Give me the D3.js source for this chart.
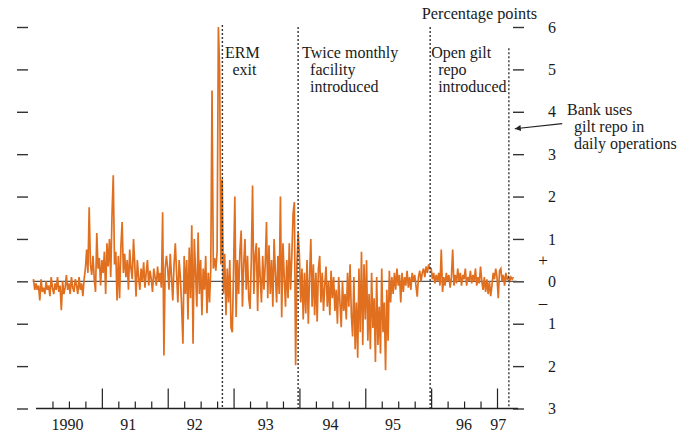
<!DOCTYPE html>
<html>
<head>
<meta charset="utf-8">
<script src="https://cdn.jsdelivr.net/npm/d3@7"></script>
<style>
  body { margin: 0; background: #fff; }
  text { font-family: "Liberation Serif", "DejaVu Serif", serif; fill: #1a1a1a; }
</style>
</head>
<body>
<div id="chart"></div>
<script>
// weekly values, percentage points
const late1989 = [0.05, -0.2];
const spread1990 = [-0.05, -0.2, -0.1, -0.45, 0.05, -0.25, -0.15, -0.3, 0.0, -0.2, -0.1, -0.35, 0.1,
  -0.15, -0.3, -0.05, -0.2, 0.1, -0.25, -0.1, -0.68, 0.0, -0.3, -0.15, 0.15, -0.2, -0.05, -0.3, 0.1,
  -0.15, -0.25, 0.05, -0.1, -0.3, 0.1, -0.2, -0.05, -0.35, 0.05,
  0.3, 0.75, 0.2, 1.75, 0.4, 0.15, 0.6, 0.05, -0.25, 1.14, 0.3, 0.55, -0.1];
const spread1991 = [0.5, 0.2, 0.7, -0.3, 0.9, 0.35, 1.0, 0.1, 1.55, 2.5,
  0.4, 0.7, -0.45, 0.6, -0.4, 0.8, 1.4, 0.2, 0.65, 0.1, 0.5, -0.2, 0.75, 0.3, 0.05, 1.0, 0.4, -0.36,
  0.5, 0.1, -0.2, 0.3, 0.0, 0.45, -0.15, 0.2, 0.5, -0.1, 0.25, 0.05, -0.25, 0.3, 0.1, -0.1, 0.35, 0.0, 0.2, -0.15,
  1.63, -1.75, 0.3, 0.6];
const spread1992 = [0.3, -0.2, 0.65, 0.1, -0.45, 0.4, 0.9, 0.2, -0.5, 0.5,
  0.1, -0.6, -1.47, 0.6, -0.3, 0.5, -0.9, 0.8, -0.4, 1.32, -1.47, 1.0, 0.2, -0.6,
  1.15, -0.3, 0.5, -0.8, 0.3, -0.2, 0.6, -0.75, 0.2, -0.5, 0.3,
  4.5, 0.3, 0.55, 0.25, 0.7, 6.0, 5.0, 0.4, 2.4,
  -0.3, 0.65, -0.8, 0.3, -0.5, 0.5, -1.1, -1.2];
const spread1993 = [0.3, 2.0, -0.84, 0.5, -0.3, 0.7,
  1.2, -0.6, 0.4, 1.0, -0.2, 0.6, -0.4, -0.65, 0.5, 2.26,
  -0.3, 0.6, 0.9, -0.7, 0.8, 0.1, -0.5, 0.6, -0.2, 0.4, 1.4,
  -0.4, 0.85, -0.3, 0.5, -0.6, 1.0, 0.2, -0.5, 0.6, -0.3, 2.0,
  -0.85, 0.9, 0.1, -0.6, 0.5, -0.4, 0.9, -0.2, 0.6, 1.6, 1.87, -1.98, 0.4, 1.15];
const spread1994 = [0.6, -0.5, 0.3, -0.9, 0.2, -0.76, 0.5, -1.0, 0.1, 1.0,
  -0.6, 0.4, -0.8, 0.2, -0.95, 0.3, 0.6,
  -0.5, 0.2, -0.7, -0.1, 0.35, -0.6, 0.0, -0.8, 0.25, -0.4, 0.1, -0.7,
  -0.2, -1.0, 0.1, -0.5, -1.08, 0.0, -0.7, -0.3, -0.9, 0.2, -0.6, 0.4, -0.8,
  -1.3, 0.1, -1.6, -0.5, -1.8, 0.3, -1.2, 0.7, -1.5, 0.4];
const spread1995 = [-0.9, 0.5, -1.4, -0.3, -1.6, 0.2, -1.1, -0.4, -1.9, 0.1, -1.5, -0.6, -1.7, 0.3,
  -1.2, -0.5, -2.1, -0.2, -1.4,
  0.25, -0.5, 0.1, -0.3, 0.2, -0.2, 0.3, -0.1, 0.15, -0.5, 0.2, -0.25, 0.1, -0.1, 0.25, -0.15,
  0.1, -0.2, 0.2, 0.0, 0.15, -0.1, -0.36, 0.1, 0.25, 0.0, 0.2, 0.3, 0.1, 0.35, 0.2, 0.4, 0.3];
const spread1996 = [0.3, 0.05, 0.2, -0.05, 0.15, 0.0, 0.2, -0.1, 0.75,
  -0.25, 0.1, -0.1, 0.2, 0.0, 0.15, -0.15, 0.1, 0.75,
  -0.1, 0.15, -0.05, 0.3, 0.0, 0.2, -0.1, 0.15, 0.05, 0.3, -0.1, 0.1, 0.0, 0.25, -0.05, 0.15, 0.0, 0.3, -0.1, 0.1, -0.05,
  0.35, 0.0, -0.2, 0.1, -0.25, 0.05, -0.3, 0.0, -0.35, -0.1, 0.2, 0.05, 0.3];
const spread1997 = [0.1, -0.4, 0.25, 0.3, 0.0, 0.15, -0.1, 0.2, 0.05, 0.1, 0.0, 0.1, 0.05, 0.1];

const yearLabels = ["1990", "91", "92", "93", "94", "95", "96", "97"];
const yearLabelAt = [1990.48, 1991.40, 1992.41, 1993.49, 1994.47, 1995.42, 1996.5, 1997.02];
const majorTicks = [1991, 1992, 1993, 1994, 1995, 1996, 1997];
const minorTicks = d3.range(1990, 1997).flatMap(y => [y + 0.25, y + 0.5, y + 0.75]);
const yTicks = [-3, -2, -1, 0, 1, 2, 3, 4, 5, 6];

const eventDates = [1992.83, 1993.98, 1995.985, 1997.18];
const eventTops = [6.05, 6.0, 6.0, 5.5];
const eventText = [["ERM", "exit"], ["Twice monthly", "facility", "introduced"],
                   ["Open gilt", "repo", "introduced"], ["Bank uses", "gilt repo in", "daily operations"]];

// build the series
const series = [];
late1989.forEach((v, k) => series.push({t: 1990 - (late1989.length - k) / 52, v}));
[spread1990, spread1991, spread1992, spread1993, spread1994, spread1995, spread1996, spread1997]
  .forEach((arr, i) => arr.forEach((v, k) => series.push({t: 1990 + i + k / 52, v})));

const W = 691, H = 434;
const svg = d3.select("#chart").append("svg").attr("width", W).attr("height", H);

const x = d3.scaleLinear().domain([1990, 1997]).range([36, 497]);
const y = d3.scaleLinear().domain([-3, 6]).range([408.5, 27]);

// left tick marks (no labels)
svg.append("g")
  .attr("transform", "translate(28,0)")
  .call(d3.axisLeft(y).tickValues(yTicks).tickSize(11).tickFormat(""))
  .call(g => g.select(".domain").remove())
  .call(g => g.selectAll("line").attr("stroke", "#333").attr("stroke-width", 1.4));

// right axis
svg.append("g")
  .attr("transform", "translate(524,0)")
  .call(d3.axisRight(y).tickValues(yTicks).tickSize(-11).tickPadding(24).tickFormat(d => Math.abs(d)))
  .call(g => g.select(".domain").remove())
  .call(g => g.selectAll("line").attr("stroke", "#333").attr("stroke-width", 1.4))
  .call(g => g.selectAll("text").attr("font-size", 16).attr("font-family", "Liberation Serif").attr("fill", "#1a1a1a"));
svg.append("text").attr("x", 543).attr("y", y(0.5)).attr("dy", "0.35em")
  .attr("text-anchor", "middle").attr("font-size", 17).text("+");
svg.append("text").attr("x", 543).attr("y", y(-0.5)).attr("dy", "0.35em")
  .attr("text-anchor", "middle").attr("font-size", 17).text("\u2013");

svg.append("text").attr("x", 537).attr("y", 19).attr("text-anchor", "end")
  .attr("font-size", 16.3).text("Percentage points");

// bottom axis
svg.append("line")
  .attr("x1", x(1990)).attr("x2", x(1997.32))
  .attr("y1", y(-3)).attr("y2", y(-3))
  .attr("stroke", "#222").attr("stroke-width", 1.3);
svg.append("g")
  .attr("transform", `translate(0,${y(-3)})`)
  .call(d3.axisTop(x).tickValues(majorTicks).tickSize(20).tickFormat(""))
  .call(g => g.select(".domain").remove())
  .call(g => g.selectAll("line").attr("stroke", "#222").attr("stroke-width", 1.2));
svg.append("g")
  .attr("transform", `translate(0,${y(-3)})`)
  .call(d3.axisTop(x).tickValues(minorTicks).tickSize(7).tickFormat(""))
  .call(g => g.select(".domain").remove())
  .call(g => g.selectAll("line").attr("stroke", "#222").attr("stroke-width", 1.2));
svg.selectAll(".yearlab").data(yearLabels).enter().append("text")
  .attr("class", "yearlab")
  .attr("x", (d, i) => x(yearLabelAt[i]))
  .attr("y", 430)
  .attr("text-anchor", "middle")
  .attr("font-size", 16)
  .text(d => d);

// zero line
svg.append("line")
  .attr("x1", x(1989.95)).attr("x2", x(1997.3))
  .attr("y1", y(0)).attr("y2", y(0))
  .attr("stroke", "#555").attr("stroke-width", 1.4);

// the series
svg.append("path")
  .datum(series)
  .attr("d", d3.line().x(d => x(d.t)).y(d => y(d.v)))
  .attr("fill", "none")
  .attr("stroke", "#e06f1f")
  .attr("stroke-width", 1.7);

// event lines
svg.selectAll(".evt").data(eventDates).enter().append("line")
  .attr("class", "evt")
  .attr("x1", d => x(d)).attr("x2", d => x(d))
  .attr("y1", (d, i) => y(eventTops[i])).attr("y2", y(-3))
  .attr("stroke", "#333").attr("stroke-width", 1.4)
  .attr("stroke-dasharray", "2,2");

// event annotations
function block(lines, x0, y0, indents, anchor) {
  lines.forEach((s, j) => {
    svg.append("text")
      .attr("x", x0 + indents[j]).attr("y", y0 + j * 17)
      .attr("text-anchor", anchor)
      .attr("font-size", 16)
      .text(s);
  });
}
block(eventText[0], x(eventDates[0]) + 20, 58, [0, 2], "middle");
block(eventText[1], x(eventDates[1]) + 4, 58, [0, 8, 8], "start");
block(eventText[2], x(eventDates[2]) + 1, 58, [0, 7, 7], "start");
block(eventText[3], 567, 115, [0, 7, 7], "start");

// arrow to the last event line
svg.append("defs").append("marker")
  .attr("id", "arr").attr("viewBox", "0 0 10 10").attr("refX", 10).attr("refY", 5)
  .attr("markerWidth", 8).attr("markerHeight", 6).attr("orient", "auto")
  .attr("markerUnits", "userSpaceOnUse")
  .append("path").attr("d", "M0,0L10,5L0,10z").attr("fill", "#222");
svg.append("line")
  .attr("x1", x(1997.99)).attr("y1", y(3.72))
  .attr("x2", x(1997.27)).attr("y2", y(3.6))
  .attr("stroke", "#222").attr("stroke-width", 1.1)
  .attr("marker-end", "url(#arr)");
</script>
</body>
</html>
